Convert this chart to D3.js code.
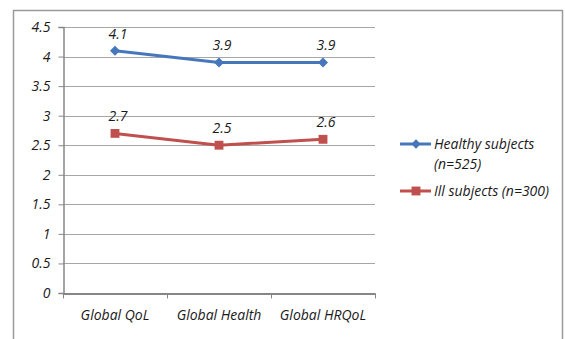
<!DOCTYPE html>
<html>
<head>
<meta charset="utf-8">
<script src="https://cdn.jsdelivr.net/npm/d3@7"></script>
<style>
  html, body { margin: 0; padding: 0; background: #fff; }
  svg { display: block; }
  text { font-family: "Open Sans", "Liberation Sans", sans-serif; font-style: italic; fill: #1a1a1a; }
</style>
</head>
<body>
<svg id="chart" width="565" height="339"></svg>
<script>
// Chart data
const categories = ["Global QoL", "Global Health", "Global HRQoL"];
const healthy = [4.1, 3.9, 3.9];
const ill = [2.7, 2.5, 2.6];
const seriesNames = ["Healthy subjects (n=525)", "Ill subjects (n=300)"];
const yTicks = [0, 0.5, 1, 1.5, 2, 2.5, 3, 3.5, 4, 4.5];

const svg = d3.select("#chart");
const margin = { left: 63, top: 27, right: 375, bottom: 293 };

const blue = "#4677bb";
const red = "#c0504d";
const fontSize = "14px";

// Outer frame (open at the bottom)
svg.append("path")
  .attr("d", "M13.5,339 V10.5 H562.5 V339")
  .attr("fill", "none").attr("stroke", "#9a9a9a").attr("stroke-width", 1.5);

const x = d3.scaleBand().domain(categories).range([margin.left, margin.right]);
const y = d3.scaleLinear().domain([0, 4.5]).range([margin.bottom, margin.top]);

// Horizontal gridlines
svg.append("g").selectAll("line").data(yTicks.filter(d => d > 0)).join("line")
  .attr("x1", margin.left).attr("x2", margin.right)
  .attr("y1", d => Math.round(y(d)) + 0.5).attr("y2", d => Math.round(y(d)) + 0.5)
  .attr("stroke", "#a6a6a6").attr("stroke-width", 1);

// Y axis
const yAxis = svg.append("g")
  .attr("transform", `translate(${margin.left + 0.5},0)`)
  .call(d3.axisLeft(y).tickValues(yTicks).tickFormat(d3.format("")).tickSize(5).tickPadding(8));
yAxis.select(".domain").attr("stroke", "#868686").attr("stroke-width", 1.5);
yAxis.selectAll(".tick line").attr("stroke", "#868686");
yAxis.selectAll(".tick text").style("font-size", fontSize).attr("fill", "#1a1a1a")
  .style("font-family", "'Open Sans', sans-serif").style("font-style", "italic");

// X axis
const xAxis = svg.append("g")
  .attr("transform", `translate(0,${margin.bottom + 0.5})`)
  .call(d3.axisBottom(x).tickSize(0).tickPadding(17));
xAxis.select(".domain").attr("stroke", "#868686").attr("stroke-width", 1.8);
xAxis.selectAll(".tick text").style("font-size", fontSize).attr("fill", "#1a1a1a")
  .style("font-family", "'Open Sans', sans-serif").style("font-style", "italic");
// Category boundary tick marks
xAxis.append("g").selectAll("line")
  .data(categories.map(c => x(c)).concat([x.range()[1]])).join("line")
  .attr("x1", d => Math.round(d) + 0.5).attr("x2", d => Math.round(d) + 0.5)
  .attr("y1", 0).attr("y2", 5).attr("stroke", "#868686");

const cx = c => x(c) + x.bandwidth() / 2;
const line = d3.line().x((d, i) => cx(categories[i])).y(d => y(d));

function drawSeries(values, color, marker) {
  const g = svg.append("g");
  g.append("path").datum(values).attr("d", line)
    .attr("fill", "none").attr("stroke", color).attr("stroke-width", 3).attr("stroke-linejoin", "round");
  g.selectAll("path.m").data(values).join("path").attr("class", "m")
    .attr("transform", (d, i) => `translate(${cx(categories[i])},${y(d)})`)
    .attr("d", marker === "diamond"
      ? d3.symbol().type(d3.symbolDiamond2).size(64)
      : d3.symbol().type(d3.symbolSquare2).size(100))
    .attr("fill", color);
  g.selectAll("text").data(values).join("text")
    .attr("x", (d, i) => cx(categories[i]) + 3)
    .attr("y", d => y(d) - 12)
    .attr("text-anchor", "middle")
    .style("font-size", fontSize)
    .text(d => d3.format(".1f")(d));
}
drawSeries(healthy, blue, "diamond");
drawSeries(ill, red, "square");

// Legend
const legend = svg.append("g");
const lx1 = 400, lx2 = 431, lmx = 416;
legend.append("line").attr("x1", lx1).attr("x2", lx2).attr("y1", 144).attr("y2", 144)
  .attr("stroke", blue).attr("stroke-width", 3);
legend.append("path").attr("transform", `translate(${lmx},144)`)
  .attr("d", d3.symbol().type(d3.symbolDiamond2).size(56)).attr("fill", blue);
const t1 = legend.append("text").attr("x", 434).attr("y", 149).style("font-size", fontSize);
t1.append("tspan").attr("x", 434).text("Healthy subjects");
t1.append("tspan").attr("x", 434).attr("dy", 20).text("(n=525)");

legend.append("line").attr("x1", lx1).attr("x2", lx2).attr("y1", 191).attr("y2", 191)
  .attr("stroke", red).attr("stroke-width", 3);
legend.append("path").attr("transform", `translate(${lmx},191)`)
  .attr("d", d3.symbol().type(d3.symbolSquare2).size(100)).attr("fill", red);
legend.append("text").attr("x", 434).attr("y", 196).style("font-size", fontSize).text(seriesNames[1]);
</script>
</body>
</html>
